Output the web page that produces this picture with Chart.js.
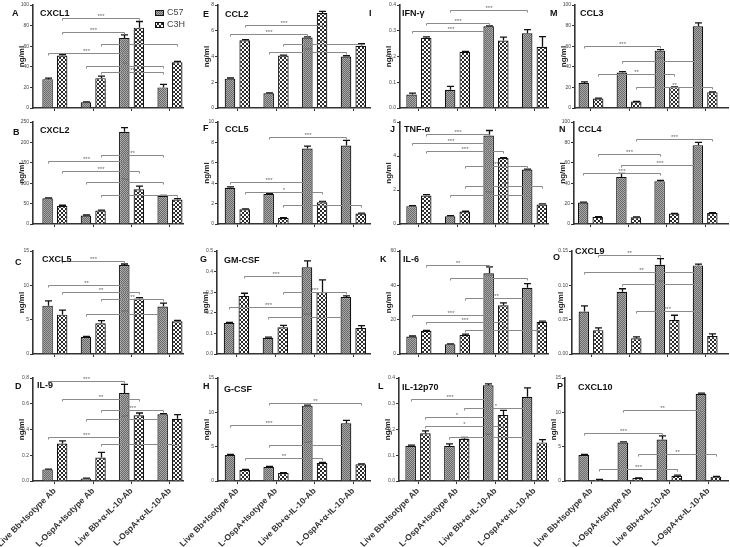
<!DOCTYPE html>
<html><head><meta charset="utf-8">
<script src="https://cdn.jsdelivr.net/npm/chart.js@4.4.0/dist/chart.umd.min.js"></script>
<style>
html,body{margin:0;padding:0;background:#fff;width:730px;height:547px;overflow:hidden;position:relative}
canvas{position:absolute}
</style></head><body>
<script>
// ---------- DATA ----------
const groups = ["Live Bb+Isotype Ab", "L-OspA+Isotype Ab", "Live Bb+\u03b1-IL-10-Ab", "L-OspA+\u03b1-IL-10-Ab"];
const series = ["C57", "C3H"];
const panelLetters = ["A","B","C","D","E","F","G","H","I","J","K","L","M","N","O","P"];
const panelTitles = ["CXCL1","CXCL2","CXCL5","IL-9","CCL2","CCL5","GM-CSF","G-CSF","IFN-\u03b3","TNF-\u03b1","IL-6","IL-12p70","CCL3","CCL4","CXCL9","CXCL10"];
const yMax   = [100, 250, 15, 0.8,  8, 10, 0.5, 15,  0.4, 6, 60, 0.4,  100, 100, 0.15, 15];
const yStep  = [20, 50, 5, 0.2,    2, 2, 0.1, 5,     0.1, 2, 20, 0.1,  20, 20, 0.05, 5];
const yDec   = [0, 0, 0, 1,        0, 0, 1, 0,       1, 0, 0, 1,       0, 0, 2, 0];
const yTitle = "ng/ml";

const c57Values = [
  [28, 5.5, 68, 20], [63, 21, 226, 69], [7.04, 2.52, 12.96, 6.9], [0.09, 0.02, 0.683, 0.518],
  [2.28, 1.14, 5.47, 4.0], [3.55, 2.94, 7.39, 7.7], [0.15, 0.079, 0.421, 0.277], [3.8, 2.05, 10.97, 8.4],
  [0.052, 0.071, 0.317, 0.29], [1.05, 0.46, 5.2, 3.2], [10.2, 5.7, 47, 38.6], [0.137, 0.136, 0.372, 0.327],
  [24.3, 34.4, 55.7, 79.3], [21, 46, 42, 77.3], [0.062, 0.0906, 0.130, 0.129], [3.77, 5.6, 6.04, 12.7]
];
const c57Errors = [
  [1, 0.5, 3, 3], [1, 1, 10, 1], [0.7, 0.05, 0.15, 0.5], [0.003, 0.003, 0.067, 0.005],
  [0.05, 0.03, 0.06, 0.06], [0.08, 0.05, 0.25, 0.5], [0.004, 0.003, 0.031, 0.005], [0.08, 0.06, 0.08, 0.43],
  [0.006, 0.013, 0.002, 0.014], [0.03, 0.03, 0.3, 0.03], [0.3, 0.2, 3.8, 2.4], [0.002, 0.008, 0.005, 0.035],
  [1, 1, 1, 3.3], [0.5, 3.7, 0.8, 2.7], [0.008, 0.0044, 0.009, 0.002], [0.1, 0.1, 0.53, 0.1]
];
const c3hValues = [
  [51, 29, 78, 44.5], [44, 33, 85, 60], [5.73, 4.47, 8.1, 4.76], [0.291, 0.183, 0.51, 0.484],
  [5.26, 4.07, 7.38, 4.84], [1.45, 0.6, 2.13, 1.03], [0.282, 0.13, 0.301, 0.126], [1.6, 1.17, 2.63, 2.44],
  [0.273, 0.218, 0.262, 0.238], [1.68, 0.73, 3.88, 1.15], [13.5, 11, 28.4, 18.8], [0.185, 0.164, 0.256, 0.15],
  [9.2, 6.2, 20.3, 15.4], [7, 6.6, 10.2, 10.8], [0.0347, 0.0228, 0.0495, 0.0262], [0.19, 0.43, 0.77, 0.63]
];
const c3hErrors = [
  [0.8, 2, 6, 0.8], [2, 1, 8, 2], [0.67, 0.38, 0.1, 0.15], [0.021, 0.039, 0.018, 0.031],
  [0.05, 0.04, 0.12, 0.15], [0.04, 0.03, 0.08, 0.03], [0.013, 0.009, 0.059, 0.012], [0.08, 0.05, 0.08, 0.05],
  [0.003, 0.002, 0.013, 0.039], [0.05, 0.02, 0.03, 0.03], [0.3, 0.6, 1.4, 0.3], [0.01, 0.005, 0.018, 0.011],
  [0.3, 0.3, 0.3, 0.3], [0.3, 0.3, 0.3, 0.3], [0.0033, 0.002, 0.0069, 0.003], [0.03, 0.03, 0.1, 0.05]
];
// significance brackets: [from bar, to bar, level, label]; bar = group*2 + series
const brackets = [
  [[1,5,87,"***"],[1,4,74,"***"],[3,7,62,"**"],[0,4,53,"***"],[2,6,41,"**"],[3,6,35,"**"]],
  [[3,6,170,"**"],[0,4,154,"***"],[1,5,130,"***"],[2,6,102,"***"],[3,7,72,"*"]],
  [[1,4,13.5,"***"],[0,4,10.1,"**"],[1,5,9.0,"**"],[3,6,7.96,"**"],[2,6,5.87,"***"]],
  [[0,4,0.776,"***"],[1,5,0.64,"**"],[3,6,0.554,"***"],[2,6,0.485,"***"],[0,4,0.343,"***"],[3,7,0.286,"***"]],
  [[1,5,6.48,"***"],[0,4,5.78,"***"],[3,7,5.0,"**"],[2,6,4.38,"***"]],
  [[2,6,8.55,"***"],[0,4,4.13,"***"],[1,5,3.13,"*"],[3,7,1.84,"**"]],
  [[1,4,0.379,"***"],[3,6,0.30,"***"],[0,4,0.227,"***"],[2,6,0.18,"***"]],
  [[2,7,11.3,"**"],[0,4,8.15,"***"],[2,6,5.3,"***"],[1,5,3.41,"**"]],
  [[2,6,0.38,"***"],[1,4,0.331,"***"],[0,4,0.30,"***"]],
  [[1,4,5.3,"***"],[0,4,4.77,"***"],[1,5,4.28,"***"],[3,6,3.39,"**"],[3,7,2.22,"**"],[2,6,1.72,"***"]],
  [[1,4,51.8,"**"],[2,6,44,"***"],[3,6,32.5,"**"],[0,4,22.5,"***"],[1,5,18.4,"***"],[3,7,14.1,"*"]],
  [[0,4,0.317,"***"],[3,6,0.285,"*"],[1,4,0.249,"*"],[1,5,0.212,"*"],[2,6,0.172,"***"]],
  [[0,4,60.6,"***"],[2,6,46,"***"],[1,5,33,"**"],[3,7,20.6,"**"]],
  [[3,7,83,"***"],[1,4,68.4,"***"],[2,6,57.9,"***"],[0,4,49.7,"***"]],
  [[1,4,0.144,"**"],[0,6,0.119,"**"],[2,6,0.102,"**"],[3,6,0.0624,"***"]],
  [[2,6,10.4,"**"],[0,4,7.05,"***"],[3,7,3.86,"**"],[1,5,1.74,"***"]]
];

// ---------- LAYOUT ----------
const plotLeft = [33,33,33,33, 218,218,217,218, 400,400,400,399, 575,574,572,565];
const colRight = [183, 370, 548, 728];
const rowTop = [5, 122, 251, 378];
const rowBottom = [108, 224, 354, 481];
const xMinArr = [-0.57,-0.57,-0.57,-0.57, -0.5,-0.5,-0.5,-0.5, -0.49,-0.49,-0.49,-0.49, -0.42,-0.43,-0.5,-0.67];
const xMaxArr = [3.34,3.34,3.34,3.34, 3.43,3.43,3.43,3.43, 3.35,3.35,3.35,3.35, 3.6,3.6,3.6,3.5];
const letterPos = [[12,14],[13,133],[15,263],[15,387],[203,15],[203,129],[200,260],[203,387],
                   [369,14],[390,130],[380,260],[378,387],[550,14],[559,130],[553,258],[557,387]];
const titlePos = [[40,14],[40,131],[42,260],[37,386],[225,15],[225,130],[224,261],[224,390],
                  [402,14],[404,130],[403,260],[402,388],[580,14],[578,130],[575,252],[578,388]];

const FONT = "'Liberation Sans', Arial, Helvetica, sans-serif";
Chart.defaults.font.family = FONT;

function makePattern(kind){
  const c = document.createElement('canvas');
  const x = c.getContext('2d');
  if (kind === 0) {
    c.width = 2; c.height = 2;
    x.fillStyle = '#a8a8a8'; x.fillRect(0,0,2,2);
    x.fillStyle = '#6a6a6a'; x.fillRect(0,0,1,1); x.fillRect(1,1,1,1);
  } else {
    c.width = 4; c.height = 4;
    x.fillStyle = '#ffffff'; x.fillRect(0,0,4,4);
    x.fillStyle = '#2a2a2a'; x.fillRect(0,0,2,2); x.fillRect(2,2,2,2);
  }
  return document.createElement('canvas').getContext('2d').createPattern(c, 'repeat');
}
const pats = [makePattern(0), makePattern(1)];

const PADL = 40, YW = 20, PADT = 10, PADR = 4;

const panelPlugin = {
  id: 'panel',
  afterDatasetsDraw(chart, args, opts) {
    const p = opts.index;
    const ctx = chart.ctx, ys = chart.scales.y;
    const vals = [c57Values[p], c3hValues[p]], errs = [c57Errors[p], c3hErrors[p]];
    ctx.save();
    ctx.strokeStyle = '#111'; ctx.lineWidth = 1.3;
    for (let ds = 0; ds < 2; ds++) {
      const meta = chart.getDatasetMeta(ds);
      meta.data.forEach((el, i) => {
        const top = ys.getPixelForValue(vals[ds][i] + errs[ds][i]);
        const bx = Math.round(el.x) + 0.5;
        ctx.beginPath();
        ctx.moveTo(bx, el.y); ctx.lineTo(bx, top);
        ctx.moveTo(bx - 3.5, top); ctx.lineTo(bx + 3.5, top);
        ctx.stroke();
      });
    }
    // brackets
    const barX = (b) => chart.getDatasetMeta(b % 2).data[Math.floor(b / 2)].x;
    ctx.strokeStyle = '#8a8a8a'; ctx.lineWidth = 1;
    ctx.fillStyle = '#666';
    ctx.font = '6px ' + FONT;
    ctx.textAlign = 'center'; ctx.textBaseline = 'alphabetic';
    brackets[p].forEach(br => {
      const x1 = Math.round(barX(br[0])) + 0.5, x2 = Math.round(barX(br[1])) + 0.5;
      const y = Math.round(ys.getPixelForValue(br[2])) + 0.5;
      ctx.beginPath();
      ctx.moveTo(x1, y + 2); ctx.lineTo(x1, y); ctx.lineTo(x2, y); ctx.lineTo(x2, y + 2);
      ctx.stroke();
      ctx.fillText(br[3], (x1 + x2) / 2, y - 1);
    });
    ctx.restore();
  },
  afterDraw(chart, args, opts) {
    const p = opts.index, cl = opts.cl, ct = opts.ct;
    const ctx = chart.ctx;
    ctx.save();
    ctx.fillStyle = '#111';
    ctx.textBaseline = 'middle'; ctx.textAlign = 'left';
    ctx.font = 'bold 9px ' + FONT;
    ctx.fillText(panelLetters[p], letterPos[p][0] - cl, letterPos[p][1] - ct);
    ctx.fillText(panelTitles[p], titlePos[p][0] - cl, titlePos[p][1] - ct);
    if (p === 0) {
      for (let s = 0; s < 2; s++) {
        const sy = 10 + s * 12;
        ctx.fillStyle = pats[s];
        ctx.fillRect(155 - cl, sy - ct, 9, 6);
        ctx.strokeStyle = '#111'; ctx.lineWidth = 1;
        ctx.strokeRect(155.5 - cl, sy + 0.5 - ct, 8, 5);
        ctx.fillStyle = '#444';
        ctx.font = '9px ' + FONT;
        ctx.fillText(series[s], 167 - cl, sy + 3 - ct);
      }
    }
    ctx.restore();
  }
};

for (let p = 0; p < 16; p++) {
  const col = Math.floor(p / 4), row = p % 4;
  const L = plotLeft[p], R = colRight[col], T = rowTop[row], B = rowBottom[row];
  const xh = row === 3 ? 547 - B : 8;
  const cl = L - PADL - YW, ct = T - PADT;
  const cw = R - cl + PADR, chh = B - ct + xh;
  const cv = document.createElement('canvas');
  cv.width = cw; cv.height = chh;
  cv.style.left = cl + 'px'; cv.style.top = ct + 'px';
  cv.style.width = cw + 'px'; cv.style.height = chh + 'px';
  document.body.appendChild(cv);
  const mk = (s, vals) => ({
    label: series[s],
    data: vals.map((v, i) => ({ x: i, y: v })),
    backgroundColor: pats[s], borderColor: '#111', borderWidth: 1.2, borderSkipped: 'bottom',
    categoryPercentage: 0.76, barPercentage: 0.72
  });
  new Chart(cv.getContext('2d'), {
    type: 'bar',
    data: { datasets: [mk(0, c57Values[p]), mk(1, c3hValues[p])] },
    options: {
      responsive: false, animation: false, devicePixelRatio: 1,
      layout: { padding: { left: PADL, top: PADT, right: PADR, bottom: 0 } },
      plugins: { legend: { display: false }, tooltip: { enabled: false }, panel: { index: p, cl: cl, ct: ct } },
      scales: {
        x: {
          type: 'linear', min: xMinArr[p], max: xMaxArr[p], offset: false,
          grid: { offset: false, drawOnChartArea: false, drawTicks: true, tickLength: 3, color: '#333', lineWidth: 1 },
          border: { display: true, color: '#333', width: 1.6 },
          ticks: { display: row === 3, autoSkip: false, maxRotation: 45, minRotation: 45, padding: 2,
                   font: { size: 8.5, weight: 'bold' }, color: '#333', callback: (v) => groups[v] },
          afterBuildTicks: (s) => { s.ticks = groups.map((g, i) => ({ value: i })); },
          afterFit: (s) => { s.height = xh; s.paddingLeft = 0; s.paddingRight = 0; }
        },
        y: {
          min: 0, max: yMax[p],
          grid: { drawOnChartArea: false, drawTicks: true, tickLength: 3, color: '#333', lineWidth: 1 },
          border: { display: true, color: '#333', width: 1.6 },
          ticks: { font: { size: 5 }, color: '#444', padding: 1, callback: (v) => Number(v).toFixed(yDec[p]) },
          afterBuildTicks: (s) => {
            const n = Math.round(yMax[p] / yStep[p]);
            const t = [];
            for (let k = 0; k <= n; k++) t.push({ value: +(k * yStep[p]).toFixed(6) });
            s.ticks = t;
          },
          title: { display: true, text: yTitle, font: { size: 8, weight: 'bold' }, color: '#222', padding: { top: 4, bottom: 0 } },
          afterFit: (s) => { s.width = YW; s.paddingTop = 0; s.paddingBottom = 0; }
        }
      }
    },
    plugins: [panelPlugin]
  });
}
</script>
</body></html>
